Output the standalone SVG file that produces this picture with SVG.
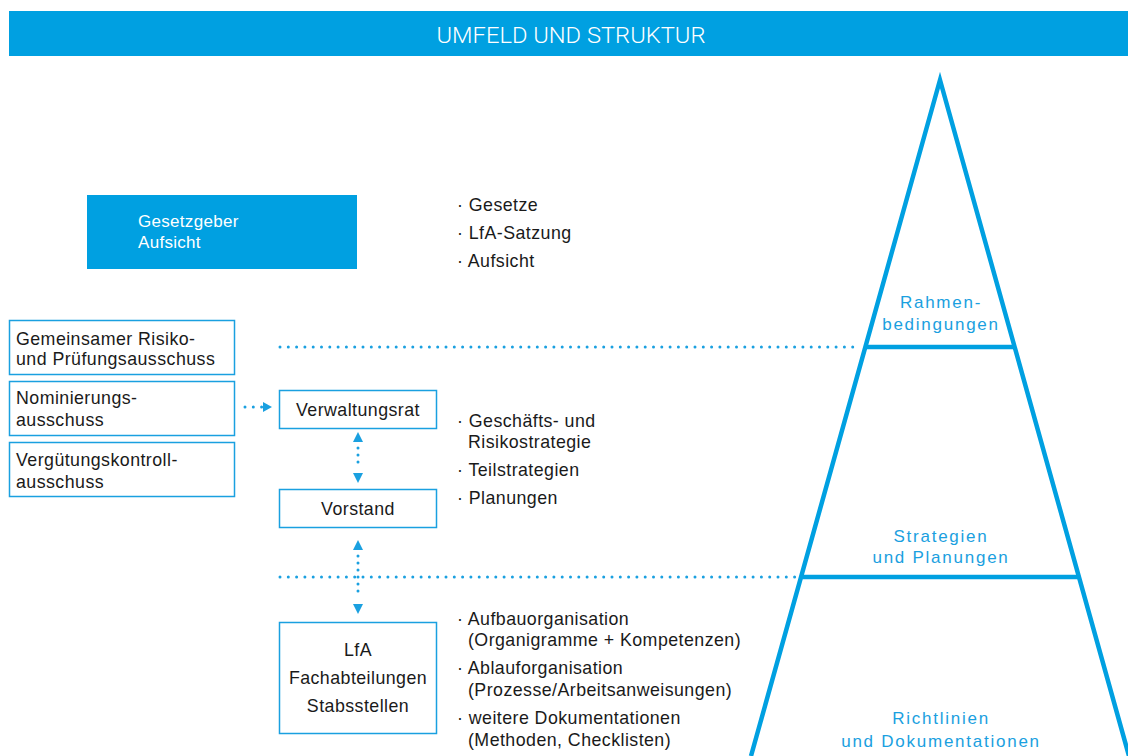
<svg xmlns="http://www.w3.org/2000/svg" width="1128" height="756" viewBox="0 0 1128 756">
<defs>
<style>
.t{font-family:"Liberation Sans",Arial,sans-serif;font-size:17.8px;fill:#1a1a1a;letter-spacing:0.45px}
.c{text-anchor:middle}
.w{fill:#fff}
.p{font-family:"Liberation Sans",Arial,sans-serif;font-size:17px;fill:#1aa0e0;letter-spacing:1.75px;text-anchor:middle}
.box{fill:#fff;stroke:#1aa0e0;stroke-width:1.5}
.dot{fill:none;stroke:#1aa0e0;stroke-width:3;stroke-linecap:round;stroke-dasharray:0 8.3}
.pyr{fill:none;stroke:#00a0e1;stroke-width:4.5}
.ah{fill:#1aa0e0}
</style>
</defs>
<rect x="9" y="11" width="1119" height="45" fill="#00a0e1"/>
<text x="571" y="43" class="c" font-family="Roboto,'Liberation Sans',sans-serif" font-weight="300" font-size="22" fill="#fff" textLength="269" lengthAdjust="spacingAndGlyphs">UMFELD UND STRUKTUR</text>

<g id="gesetzgeber">
<rect x="87" y="195" width="270" height="74" fill="#00a0e1"/>
<text class="t w" x="138" y="227" style="font-size:17px;letter-spacing:0.3px">Gesetzgeber</text>
<text class="t w" x="138" y="248" style="font-size:17px;letter-spacing:0.3px">Aufsicht</text>
</g>

<g id="bullets-rahmen">
<text class="t" x="457" y="211">· Gesetze</text>
<text class="t" x="457" y="239">· LfA-Satzung</text>
<text class="t" x="457" y="267">· Aufsicht</text>
</g>

<g id="ausschuss-risiko">
<rect class="box" x="9.5" y="320.5" width="225" height="54"/>
<text class="t" x="16" y="345">Gemeinsamer Risiko-</text>
<text class="t" x="16" y="365">und Prüfungsausschuss</text>
</g>
<g id="ausschuss-nominierung">
<rect class="box" x="9.5" y="381.5" width="225" height="54"/>
<text class="t" x="16" y="404">Nominierungs-</text>
<text class="t" x="16" y="426">ausschuss</text>
</g>
<g id="ausschuss-verguetung">
<rect class="box" x="9.5" y="442.5" width="225" height="54"/>
<text class="t" x="16" y="466">Vergütungskontroll-</text>
<text class="t" x="16" y="488">ausschuss</text>
</g>

<g id="verwaltungsrat">
<rect class="box" x="279.5" y="390.5" width="157" height="38"/>
<text class="t c" x="358" y="416">Verwaltungsrat</text>
</g>
<g id="vorstand">
<rect class="box" x="279.5" y="489.5" width="157" height="38"/>
<text class="t c" x="358" y="515">Vorstand</text>
</g>
<g id="lfa">
<rect class="box" x="279.5" y="622.5" width="157" height="111"/>
<text class="t c" x="358" y="656">LfA</text>
<text class="t c" x="358" y="684">Fachabteilungen</text>
<text class="t c" x="358" y="712">Stabsstellen</text>
</g>

<g id="bullets-strategie">
<text class="t" x="457" y="427">· Geschäfts- und</text>
<text class="t" x="468" y="448">Risikostrategie</text>
<text class="t" x="457" y="476">· Teilstrategien</text>
<text class="t" x="457" y="504">· Planungen</text>
</g>
<g id="bullets-richtlinien">
<text class="t" x="457" y="625">· Aufbauorganisation</text>
<text class="t" x="468" y="646">(Organigramme + Kompetenzen)</text>
<text class="t" x="457" y="674">· Ablauforganisation</text>
<text class="t" x="468" y="696">(Prozesse/Arbeitsanweisungen)</text>
<text class="t" x="457" y="724">· weitere Dokumentationen</text>
<text class="t" x="468" y="746">(Methoden, Checklisten)</text>
</g>

<g id="pyramide">
<polyline class="pyr" points="751,756 940,80 1129,756" stroke-linejoin="miter"/>
<line class="pyr" x1="864" y1="347" x2="1016" y2="347"/>
<line class="pyr" x1="800" y1="577" x2="1080" y2="577"/>
<text class="p" x="941" y="308">Rahmen-</text>
<text class="p" x="941" y="330">bedingungen</text>
<text class="p" x="941" y="542">Strategien</text>
<text class="p" x="941" y="563">und Planungen</text>
<text class="p" x="941" y="724">Richtlinien</text>
<text class="p" x="941" y="747">und Dokumentationen</text>
</g>

<g id="connectors">
<line class="dot" x1="280" y1="347" x2="860" y2="347"/>
<line class="dot" x1="280" y1="577" x2="797" y2="577"/>
<line class="dot" x1="245" y1="407" x2="262" y2="407"/>
<polygon class="ah" points="263,402 272,407 263,412"/>
<line class="dot" x1="358" y1="448" x2="358" y2="469" style="stroke-dasharray:0 7"/>
<polygon class="ah" points="353,442 358,432 363,442"/>
<polygon class="ah" points="353,473 358,483 363,473"/>
<line class="dot" x1="358" y1="556" x2="358" y2="598" style="stroke-dasharray:0 7"/>
<polygon class="ah" points="353,550 358,540 363,550"/>
<polygon class="ah" points="353,604 358,614 363,604"/>
</g>
</svg>
